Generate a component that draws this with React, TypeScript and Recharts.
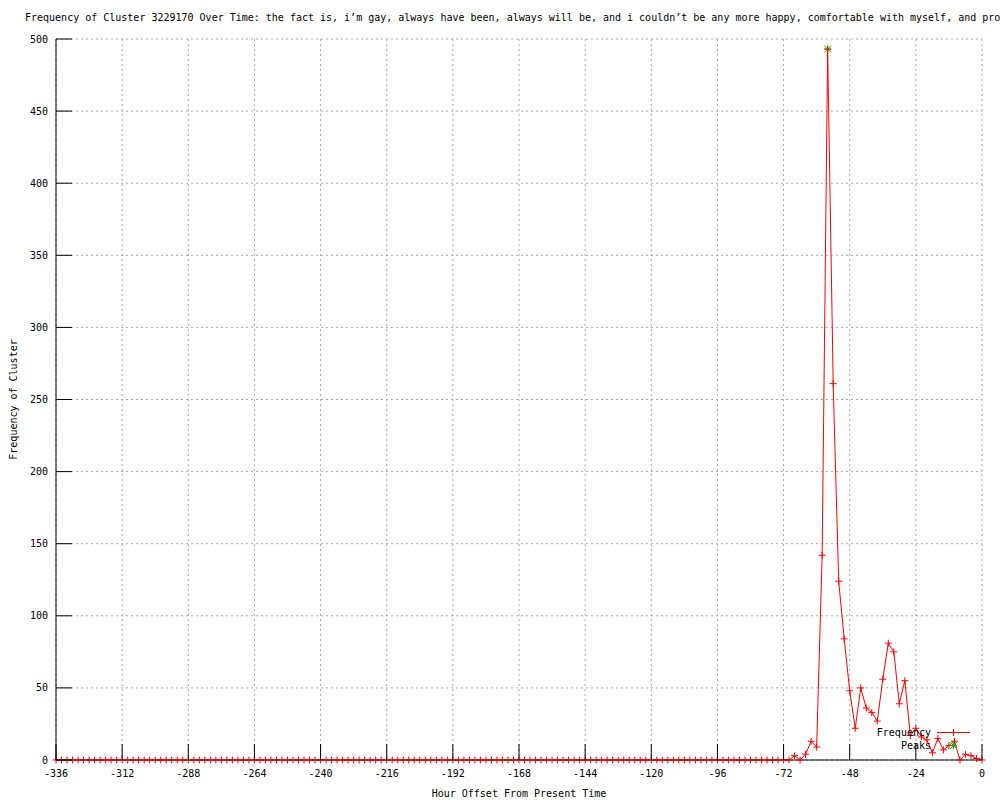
import React from 'react';
import { ComposedChart, Line, Scatter, XAxis, YAxis, CartesianGrid, Legend } from 'recharts';

const chartTitle =
  'Frequency of Cluster 3229170 Over Time: the fact is, i’m gay, always have been, always will be, and i couldn’t be any more happy, comfortable with myself, and proud';

// hour offsets, one sample every 2 hours
const hours = [
  -336, -334, -332, -330, -328, -326, -324, -322, -320, -318, -316, -314,
  -312, -310, -308, -306, -304, -302, -300, -298, -296, -294, -292, -290,
  -288, -286, -284, -282, -280, -278, -276, -274, -272, -270, -268, -266,
  -264, -262, -260, -258, -256, -254, -252, -250, -248, -246, -244, -242,
  -240, -238, -236, -234, -232, -230, -228, -226, -224, -222, -220, -218,
  -216, -214, -212, -210, -208, -206, -204, -202, -200, -198, -196, -194,
  -192, -190, -188, -186, -184, -182, -180, -178, -176, -174, -172, -170,
  -168, -166, -164, -162, -160, -158, -156, -154, -152, -150, -148, -146,
  -144, -142, -140, -138, -136, -134, -132, -130, -128, -126, -124, -122,
  -120, -118, -116, -114, -112, -110, -108, -106, -104, -102, -100, -98,
  -96, -94, -92, -90, -88, -86, -84, -82, -80, -78, -76, -74,
  -72, -70, -68, -66, -64, -62, -60, -58, -56, -54, -52, -50,
  -48, -46, -44, -42, -40, -38, -36, -34, -32, -30, -28, -26,
  -24, -22, -20, -18, -16, -14, -12, -10, -8, -6, -4, -2,
  0,
];

const frequency = [
  0, 0, 0, 0, 0, 0, 0, 0, 0, 0, 0, 0,
  0, 0, 0, 0, 0, 0, 0, 0, 0, 0, 0, 0,
  0, 0, 0, 0, 0, 0, 0, 0, 0, 0, 0, 0,
  0, 0, 0, 0, 0, 0, 0, 0, 0, 0, 0, 0,
  0, 0, 0, 0, 0, 0, 0, 0, 0, 0, 0, 0,
  0, 0, 0, 0, 0, 0, 0, 0, 0, 0, 0, 0,
  0, 0, 0, 0, 0, 0, 0, 0, 0, 0, 0, 0,
  0, 0, 0, 0, 0, 0, 0, 0, 0, 0, 0, 0,
  0, 0, 0, 0, 0, 0, 0, 0, 0, 0, 0, 0,
  0, 0, 0, 0, 0, 0, 0, 0, 0, 0, 0, 0,
  0, 0, 0, 0, 0, 0, 0, 0, 0, 0, 0, 0,
  0, 0, 3, 0, 4, 13, 9, 142, 493, 261, 124, 84,
  48, 22, 50, 36, 33, 27, 56, 81, 75, 39, 55, 17,
  22, 16, 14, 5, 15, 7, 10, 13, 0, 4, 3, 1,
  0,
];

const peakHours = [-56];
const peakValues = [493];

const xTicks = [-336, -312, -288, -264, -240, -216, -192, -168, -144, -120, -96, -72, -48, -24, 0];
const yTicks = [0, 50, 100, 150, 200, 250, 300, 350, 400, 450, 500];

const FONT = '"DejaVu Sans Mono", "Liberation Mono", monospace';
const RED = '#ff0000';
const GREEN = '#00c000';
const TICK_LEN = 16;

const data = hours.map((h, i) => ({ h, v: frequency[i] }));
const peaks = peakHours.map((h, i) => ({ h, v: peakValues[i] }));

const plusPath = (cx: number, cy: number, r: number) => `M${cx - r},${cy}h${2 * r}M${cx},${cy - r}v${2 * r}`;
const starPath = (cx: number, cy: number, r: number) =>
  plusPath(cx, cy, r) + `M${cx - r},${cy - r}l${2 * r},${2 * r}M${cx - r},${cy + r}l${2 * r},${-2 * r}`;

const PlusDot = (props: any) => {
  const { cx, cy, index } = props;
  if (cx == null || cy == null) return <g key={index} />;
  return <path key={index} d={plusPath(cx, cy, 3.5)} stroke={RED} strokeWidth={1} fill="none" />;
};

const StarShape = (props: any) => {
  const { cx, cy } = props;
  return <path d={starPath(cx, cy, 3.5)} stroke={GREEN} strokeWidth={1} fill="none" />;
};

const BottomTick = (props: any) => {
  const { x, y, payload } = props;
  return (
    <g>
      <line x1={x} y1={y} x2={x} y2={y - TICK_LEN} stroke="#000" />
      <text x={x} y={y + 17} textAnchor="middle" fontSize={10} fontFamily={FONT} fill="#000">
        {payload.value}
      </text>
    </g>
  );
};

const TopTick = (props: any) => {
  const { x, y } = props;
  return <line x1={x} y1={y} x2={x} y2={y + TICK_LEN} stroke="#000" />;
};

const LeftTick = (props: any) => {
  const { x, y, payload } = props;
  return (
    <g>
      <line x1={x} y1={y} x2={x + TICK_LEN} y2={y} stroke="#000" />
      <text x={x - 8} y={y} dy="0.35em" textAnchor="end" fontSize={10} fontFamily={FONT} fill="#000">
        {payload.value}
      </text>
    </g>
  );
};

const RightTick = (props: any) => {
  const { x, y } = props;
  return <line x1={x} y1={y} x2={x - TICK_LEN} y2={y} stroke="#000" />;
};

const legendItems = [
  { label: 'Frequency', kind: 'line' },
  { label: 'Peaks', kind: 'star' },
];

const renderLegend = () => (
  <div style={{ fontFamily: FONT, fontSize: 10, color: '#000' }}>
    {legendItems.map((item) => (
      <div key={item.label} style={{ display: 'flex', alignItems: 'center', height: 13 }}>
        <span style={{ width: 71, textAlign: 'right' }}>{item.label}</span>
        <svg width={40} height={13}>
          {item.kind === 'line' ? (
            <g>
              <line x1={6} y1={6.5} x2={39} y2={6.5} stroke={RED} />
              <path d={plusPath(22.5, 6.5, 3.5)} stroke={RED} fill="none" />
            </g>
          ) : (
            <path d={starPath(22.5, 6.5, 3.5)} stroke={GREEN} fill="none" />
          )}
        </svg>
      </div>
    ))}
  </div>
);

export default function App() {
  return (
    <div style={{ position: 'absolute', left: 0, top: 0, width: 1000, height: 800, background: '#fff', fontFamily: FONT, overflow: 'hidden' }}>
      <div style={{ position: 'absolute', left: 25, top: 12, fontSize: 10, whiteSpace: 'nowrap', color: '#000' }}>
        {chartTitle}
      </div>
      <ComposedChart width={1000} height={800} data={data} margin={{ top: 39, right: 18, bottom: 0, left: 0 }}>
        <CartesianGrid stroke="#a8a8a8" strokeDasharray="2 3" />
        <XAxis
          dataKey="h"
          type="number"
          domain={[-336, 0]}
          ticks={xTicks}
          height={40}
          tickSize={0}
          tickMargin={0}
          tickLine={false}
          axisLine={{ stroke: '#000' }}
          tick={<BottomTick />}
          label={{ value: 'Hour Offset From Present Time', position: 'insideBottom', offset: 3, fontSize: 10, fill: '#000' }}
        />
        <XAxis
          xAxisId="top"
          dataKey="h"
          type="number"
          orientation="top"
          domain={[-336, 0]}
          ticks={xTicks}
          height={0}
          tickSize={0}
          tickMargin={0}
          tickLine={false}
          axisLine={{ stroke: '#000' }}
          tick={<TopTick />}
        />
        <YAxis
          type="number"
          domain={[0, 500]}
          ticks={yTicks}
          width={56}
          tickSize={0}
          tickMargin={0}
          tickLine={false}
          axisLine={{ stroke: '#000' }}
          tick={<LeftTick />}
          label={{ value: 'Frequency of Cluster', angle: -90, position: 'insideLeft', offset: 13, fontSize: 10, fill: '#000', style: { textAnchor: 'middle' } }}
        />
        <YAxis
          yAxisId="right"
          orientation="right"
          type="number"
          domain={[0, 500]}
          ticks={yTicks}
          width={0}
          tickSize={0}
          tickMargin={0}
          tickLine={false}
          axisLine={{ stroke: '#000' }}
          tick={<RightTick />}
        />
        <Scatter data={peaks} dataKey="v" shape={<StarShape />} isAnimationActive={false} />
        <Line
          dataKey="v"
          stroke={RED}
          strokeWidth={1}
          dot={PlusDot}
          activeDot={false}
          isAnimationActive={false}
        />
        <Legend
          layout="vertical"
          align="center"
          verticalAlign="middle"
          content={renderLegend}
          wrapperStyle={{ left: 860, top: 726, width: 'auto' }}
        />
      </ComposedChart>
    </div>
  );
}
